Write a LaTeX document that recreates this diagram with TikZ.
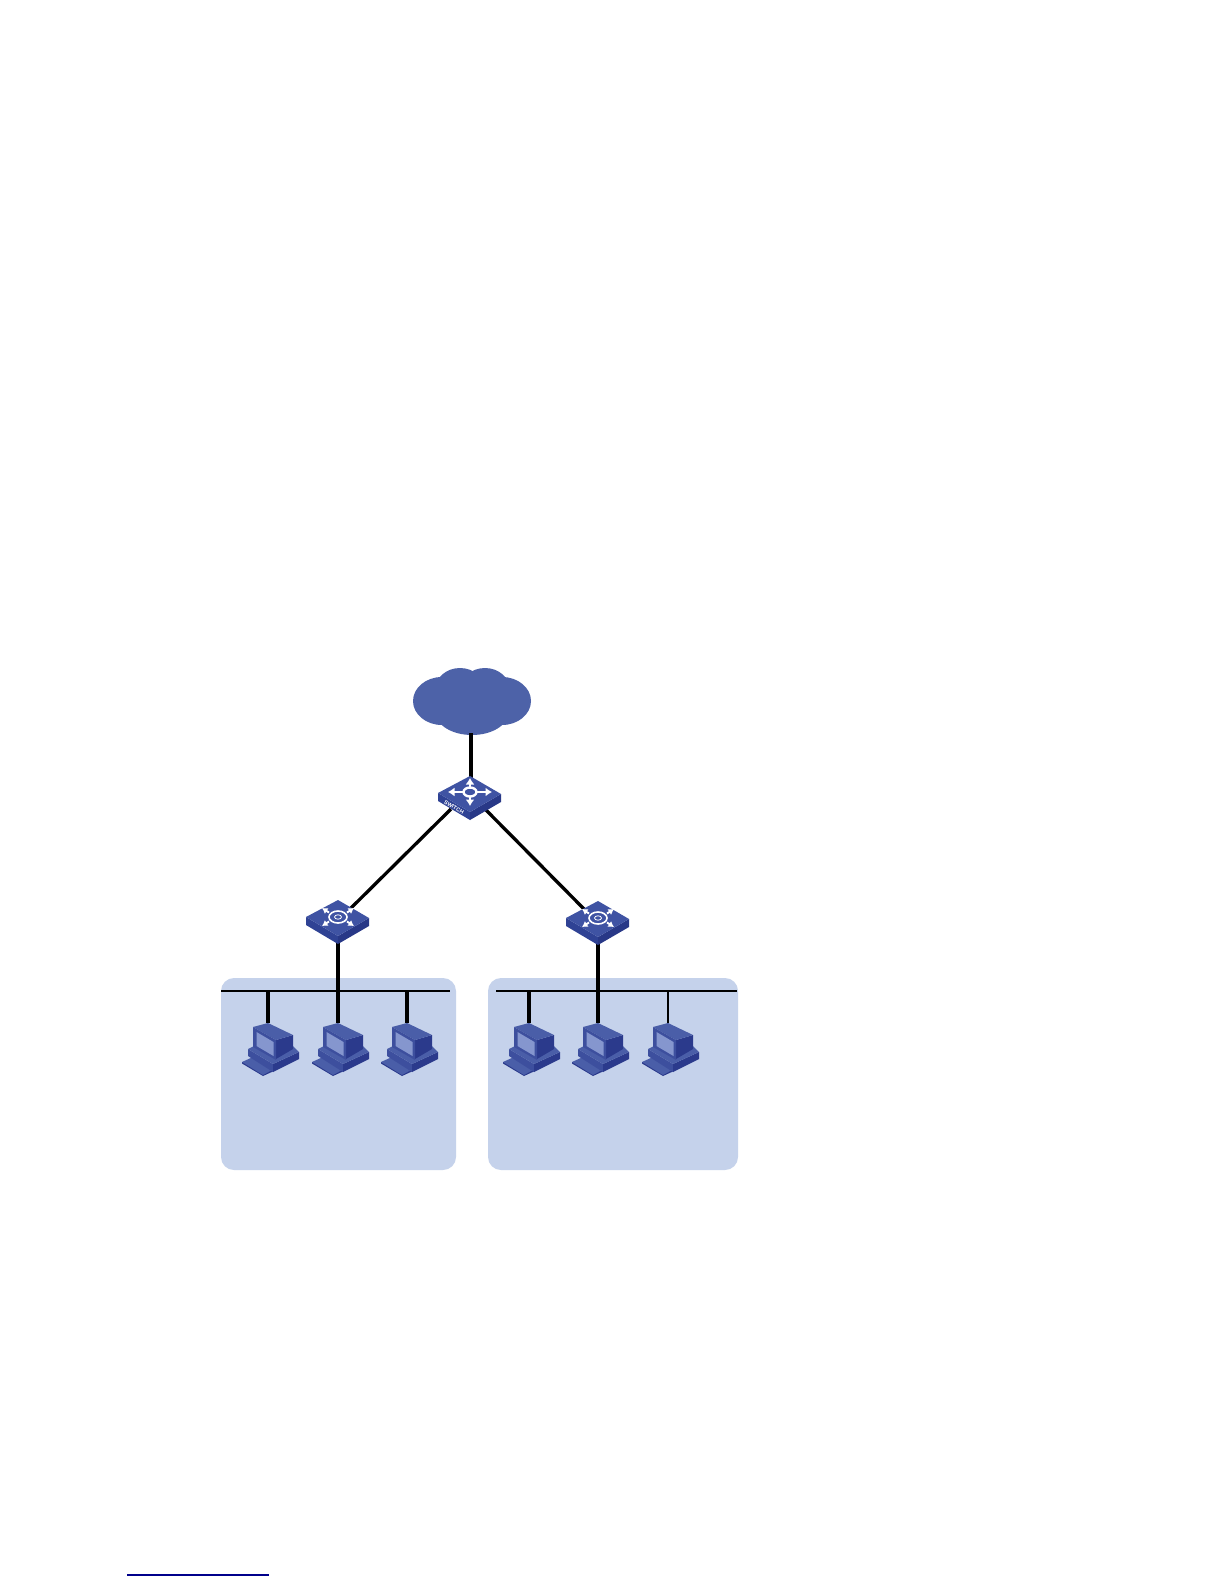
\documentclass[tikz,border=0pt]{standalone}
\usepackage{fontspec}
\usetikzlibrary{arrows.meta}
\setmainfont{Liberation Sans}
\definecolor{cloudblue}{HTML}{4D62A8}
\definecolor{panelblue}{HTML}{C5D2EB}
\definecolor{swtop}{HTML}{3F53A3}
\definecolor{swleft}{HTML}{2F4294}
\definecolor{swright}{HTML}{283887}
\definecolor{pcmid}{HTML}{3D4F9E}
\definecolor{pclight}{HTML}{4A5EA8}
\definecolor{pcdark}{HTML}{2B3A8C}
\definecolor{pcscreen}{HTML}{8596CE}
\definecolor{footblue}{HTML}{00008B}
\tikzset{
  link/.style={line width=3.3pt,black},
  bus/.style={line width=2.4pt,black},
  thinlink/.style={line width=1.8pt,black},
  panel/.style={fill=panelblue,rounded corners=13pt},
  whitearrow/.style={white,line width=2.4pt,-{Latex[length=6.5pt,width=9pt]}},
  smallarrow/.style={white,line width=1.9pt,-{Latex[length=5.5pt,width=7pt]}},
  switchbody/.pic={
    \fill[swleft] (-32,-1) -- (0,18) -- (0,26) -- (-32,7) -- cycle;
    \fill[swright] (0,18) -- (31,0) -- (31,8) -- (0,26) -- cycle;
    \fill[swtop] (0,-18) -- (31,0) -- (0,18) -- (-32,-1) -- cycle;
  },
  pcicon/.pic={
    % keyboard
    \fill[pcdark] (-26,39) -- (-26,40.5) -- (-5,53) -- (6,48) -- (6,46) -- cycle;
    \fill[pclight] (-26,39) -- (-15,34) -- (6,46) -- (-5,52) -- cycle;
    % base
    \fill[pcmid] (-20,26) -- (-20,33) -- (5,49) -- (5,41) -- cycle;
    \fill[pcdark] (5,41) -- (31,29) -- (31,36) -- (5,49) -- cycle;
    \fill[pclight] (-20,26) -- (-8,20) -- (24,22) -- (31,29) -- (5,41) -- cycle;
    % monitor
    \fill[pcdark] (8,17) -- (25,12) -- (25,26) -- (8,36) -- cycle;
    \fill[pclight] (-15,4) -- (0,0) -- (25,12) -- (8,17) -- cycle;
    \fill[pcmid] (-15,4) -- (8,17) -- (8,37) -- (-15,24) -- cycle;
    \fill[pcscreen] (-11.5,9) -- (5.5,19) -- (5.5,33) -- (-11.5,23) -- cycle;
  }
}
\begin{document}
\begin{tikzpicture}[x=1pt,y=-1pt]
\useasboundingbox (0,0) rectangle (1224,1584);
\fill[white] (0,0) rectangle (1224,1584);

% panels
\fill[panel] (221,978) rectangle (456,1170);
\fill[panel] (488,978) rectangle (738,1170);

% cloud
\fill[cloudblue] (442,701) ellipse [x radius=29,y radius=24];
\fill[cloudblue] (502,701) ellipse [x radius=29,y radius=24];
\fill[cloudblue] (460,690) ellipse [x radius=25,y radius=22];
\fill[cloudblue] (485,690) ellipse [x radius=25,y radius=22];
\fill[cloudblue] (472,713) ellipse [x radius=36,y radius=22];

% anchors
\coordinate (cloudport) at (471,733);
\coordinate (coretop) at (471,778);
\coordinate (coreleft) at (451,809);
\coordinate (coreright) at (484,808);
\coordinate (swLup) at (350,909);
\coordinate (swRup) at (585,910);
\coordinate (swLdown) at (338,942);
\coordinate (swRdown) at (598,943);
\coordinate (busLa) at (221,991);
\coordinate (busLb) at (450,991);
\coordinate (busRa) at (496,991);
\coordinate (busRb) at (737,991);
\coordinate (tapL1) at (268,991);
\coordinate (tapL3) at (407,991);
\coordinate (tapR1) at (529,991);
\coordinate (tapR3) at (668,991);
\coordinate (pcL1) at (268,1023);
\coordinate (pcL2) at (338,1023);
\coordinate (pcL3) at (407,1023);
\coordinate (pcR1) at (529,1023);
\coordinate (pcR2) at (598,1023);
\coordinate (pcR3) at (668,1023);

% connectors
\draw[link] (cloudport) -- (coretop);
\draw[link] (coreleft) -- (swLup);
\draw[link] (coreright) -- (swRup);
\draw[bus] (busLa) -- (busLb);
\draw[bus] (busRa) -- (busRb);
\draw[link] (swLdown) -- (pcL2);
\draw[link] (swRdown) -- (pcR2);
\draw[link] (tapL1) -- (pcL1);
\draw[link] (tapL3) -- (pcL3);
\draw[link] (tapR1) -- (pcR1);
\draw[thinlink] (tapR3) -- (pcR3);

% core switch
\pic at (470,794) {switchbody};
\begin{scope}[shift={(470,792)}]
  \draw[whitearrow] (-7,0) -- (-22,0);
  \draw[whitearrow] (7,0) -- (22,0);
  \draw[whitearrow] (0,-5) -- (0,-14);
  \draw[whitearrow] (0,5) -- (0,14);
  \draw[white,line width=2.4pt] (0,0) ellipse [x radius=6.5,y radius=4.5];
\end{scope}
\node[white,font=\bfseries\fontsize{5.5}{5.5}\selectfont,rotate=-30,inner sep=0pt] (swlabel) at (454,807) {SWITCH};

% access switches
\pic at (338,918) {switchbody};
\begin{scope}[shift={(338,917)}]
  \draw[smallarrow] (-9,-4.5) -- (-16,-9);
  \draw[smallarrow] (9,-4.5) -- (16,-9);
  \draw[smallarrow] (-9,4.5) -- (-16,9);
  \draw[smallarrow] (9,4.5) -- (16,9);
  \draw[white,line width=1.6pt] (0,0) ellipse [x radius=9,y radius=6];
  \draw[white,line width=0.8pt] (0,0) ellipse [x radius=3.5,y radius=2.2];
\end{scope}
\pic at (598,919) {switchbody};
\begin{scope}[shift={(598,918)}]
  \draw[smallarrow] (-9,-4.5) -- (-16,-9);
  \draw[smallarrow] (9,-4.5) -- (16,-9);
  \draw[smallarrow] (-9,4.5) -- (-16,9);
  \draw[smallarrow] (9,4.5) -- (16,9);
  \draw[white,line width=1.6pt] (0,0) ellipse [x radius=9,y radius=6];
  \draw[white,line width=0.8pt] (0,0) ellipse [x radius=3.5,y radius=2.2];
\end{scope}

% computers
\pic at (pcL1) {pcicon};
\pic at (pcL2) {pcicon};
\pic at (pcL3) {pcicon};
\pic at (pcR1) {pcicon};
\pic at (pcR2) {pcicon};
\pic at (pcR3) {pcicon};

% footer rule
\coordinate (footL) at (127,1575);
\coordinate (footR) at (269,1575);
\draw[footblue,line width=1.1pt] (footL) -- (footR);
\end{tikzpicture}
\end{document}
